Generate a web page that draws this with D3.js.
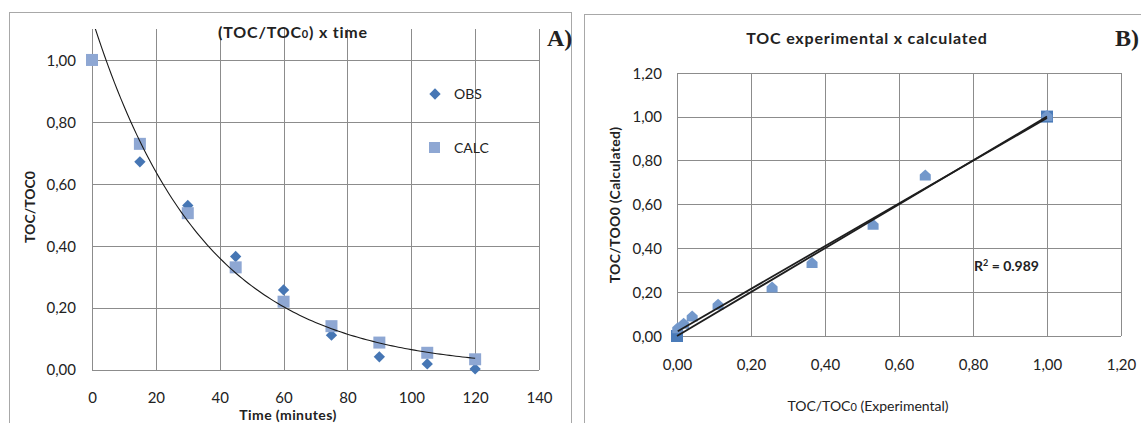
<!DOCTYPE html>
<html>
<head>
<meta charset="utf-8">
<script src="https://cdn.jsdelivr.net/npm/d3@7"></script>
<style>
  body { margin: 0; background: #fff; }
  svg { display: block; }
  text { font-family: Lato, "Open Sans", "Liberation Sans", sans-serif; fill: #222; }
</style>
</head>
<body>
<svg id="chart" width="1141" height="423"></svg>
<script>
// Sampling times and TOC ratios
const timeMin   = [0, 15, 30, 45, 60, 75, 90, 105, 120];
const obsRatio  = [1.000, 0.671, 0.530, 0.365, 0.257, 0.111, 0.041, 0.018, 0.002];
const calcRatio = [1.000, 0.729, 0.505, 0.330, 0.219, 0.140, 0.087, 0.054, 0.033];

// Identity reference used in the parity plot
const refX = [0, 1];
const refY = [0, 1];

// Axis ticks
const timeTicks  = [0, 20, 40, 60, 80, 100, 120, 140];
const ratioTicksA = [0, 0.2, 0.4, 0.6, 0.8, 1.0];
const ratioTicksB = [0, 0.2, 0.4, 0.6, 0.8, 1.0, 1.2];

const r2Label = "0.989";

const svg = d3.select("#chart");
const comma = d3.formatLocale({ decimal: ",", thousands: ".", grouping: [3], currency: ["", ""] }).format(".2f");

const GRID = "#8c8c8c";
const FRAME = "#a8a8a8";
const OBS_COLOR = "#4676b4";
const CALC_COLOR = "#8ea7d3";
const TRI_COLOR = "#7398cb";
const SQ_COLOR = "#4a7bb9";

function crisp(v) { return Math.round(v - 0.5) + 0.5; }

// Draws gridlines and tick labels for a plot area
function drawGrid(g, x, y, xTicks, yTicks, xFmt, yFmt, yPad) {
  const [x0, x1] = x.range();
  const [y0, y1] = y.range();

  const ax = d3.axisBottom(x).tickValues(xTicks).tickFormat(xFmt)
    .tickSizeInner(-(y0 - y1)).tickSizeOuter(0).tickPadding(0);
  const gx = g.append("g").attr("transform", `translate(0,${y0})`).call(ax);
  gx.select(".domain").remove();
  gx.selectAll(".tick line").attr("stroke", GRID).attr("shape-rendering", "crispEdges");
  gx.selectAll(".tick text").attr("y", 33.5).attr("dy", 0)
    .style("font-size", "15px").attr("fill", "#222");

  const ay = d3.axisLeft(y).tickValues(yTicks).tickFormat(yFmt)
    .tickSizeInner(-(x1 - x0)).tickSizeOuter(0).tickPadding(0);
  const gy = g.append("g").attr("transform", `translate(${x0},0)`).call(ay);
  gy.select(".domain").remove();
  gy.selectAll(".tick line").attr("stroke", GRID).attr("shape-rendering", "crispEdges");
  gy.selectAll(".tick text").attr("x", -yPad).attr("dy", "0.36em")
    .style("font-size", "15px").attr("fill", "#222");
}

/* ---------- Panel A: TOC/TOC0 versus time ---------- */
const gA = svg.append("g");
gA.append("rect").attr("x", 9.5).attr("y", 12.5).attr("width", 562).attr("height", 430)
  .attr("fill", "#fff").attr("stroke", FRAME);

const xA = d3.scaleLinear().domain([0, 140]).range([92, 539]);
const yA = d3.scaleLinear().domain([0, 1.1]).range([369.5, 29]);

drawGrid(gA, xA, yA, timeTicks, ratioTicksA, d3.format("d"), comma, 16);

// Right edge of the plot area
gA.append("line").attr("x1", crisp(xA(140))).attr("x2", crisp(xA(140)))
  .attr("y1", yA(1.1)).attr("y2", yA(0)).attr("stroke", GRID).attr("shape-rendering", "crispEdges");

gA.append("defs").append("clipPath").attr("id", "clipA")
  .append("rect").attr("x", xA(0)).attr("y", yA(1.1))
  .attr("width", xA(140) - xA(0)).attr("height", yA(0) - yA(1.1));

const rows = timeMin.map((t, i) => ({ t, obs: obsRatio[i], calc: calcRatio[i] }));

gA.append("g").selectAll("rect").data(rows).join("rect")
  .attr("x", d => xA(d.t) - 4).attr("y", d => yA(d.obs) - 4)
  .attr("width", 8).attr("height", 8)
  .attr("transform", d => `rotate(45,${xA(d.t)},${yA(d.obs)})`)
  .attr("fill", OBS_COLOR);

gA.append("g").selectAll("rect").data(rows).join("rect")
  .attr("x", d => xA(d.t) - 6).attr("y", d => yA(d.calc) - 6)
  .attr("width", 12).attr("height", 12)
  .attr("fill", CALC_COLOR);

// Exponential trendline fitted to the calculated series (log-linear least squares)
const lnC = calcRatio.map(Math.log);
const tMean = d3.mean(timeMin), lMean = d3.mean(lnC);
const kExp = d3.sum(timeMin, (t, i) => (t - tMean) * (lnC[i] - lMean)) /
             d3.sum(timeMin, t => (t - tMean) ** 2);
const aExp = Math.exp(lMean - kExp * tMean);
const curveT = d3.range(0, 120.001, 1);
gA.append("path")
  .datum(curveT)
  .attr("clip-path", "url(#clipA)")
  .attr("fill", "none").attr("stroke", "#1a1a1a").attr("stroke-width", 1.1)
  .attr("d", d3.line().x(t => xA(t)).y(t => yA(aExp * Math.exp(kExp * t))));

// Legend
const legA = gA.append("g");
legA.append("rect").attr("x", 435 - 4).attr("y", 94 - 4).attr("width", 8).attr("height", 8)
  .attr("transform", "rotate(45,435,94)").attr("fill", OBS_COLOR);
legA.append("text").attr("x", 454).attr("y", 94).attr("dy", "0.36em").style("font-size", "14px").text("OBS");
legA.append("rect").attr("x", 429).attr("y", 142).attr("width", 11).attr("height", 11).attr("fill", CALC_COLOR);
legA.append("text").attr("x", 454).attr("y", 148).attr("dy", "0.36em").style("font-size", "14px").text("CALC");

// Titles
const tA = gA.append("text").attr("x", 293).attr("y", 38).attr("text-anchor", "middle")
  .style("font-size", "16px").style("font-weight", "bold").style("letter-spacing", "0.8px");
tA.append("tspan").text("(TOC/TOC");
tA.append("tspan").style("font-size", "11px").text("0");
tA.append("tspan").text(") x time");

gA.append("text").attr("transform", "translate(35,207) rotate(-90)").attr("text-anchor", "middle")
  .style("font-size", "14px").style("font-weight", "bold").text("TOC/TOC0");

gA.append("text").attr("x", 288).attr("y", 419.5).attr("text-anchor", "middle")
  .style("font-size", "14px").style("font-weight", "bold").style("letter-spacing", "0.4px")
  .text("Time (minutes)");

gA.append("text").attr("x", 547).attr("y", 46)
  .style("font-family", "'Liberation Serif', 'DejaVu Serif', serif")
  .style("font-size", "24px").style("font-weight", "bold").attr("fill", "#000").text("A)");

/* ---------- Panel B: experimental versus calculated ---------- */
const gB = svg.append("g");
gB.append("rect").attr("x", 584.5).attr("y", 14.5).attr("width", 620).attr("height", 430)
  .attr("fill", "#fff").attr("stroke", FRAME);

const xB = d3.scaleLinear().domain([0, 1.2]).range([677, 1121]);
const yB = d3.scaleLinear().domain([0, 1.2]).range([336, 72.7]);

drawGrid(gB, xB, yB, ratioTicksB, ratioTicksB, comma, comma, 15);

// Reference squares
const sq = gB.append("g");
sq.selectAll("rect").data(refX.map((v, i) => [v, refY[i]])).join("rect")
  .attr("x", d => xB(d[0]) - 6).attr("y", d => yB(d[1]) - 6)
  .attr("width", 12).attr("height", 12).attr("fill", SQ_COLOR);

// Observed vs calculated markers
const house = "M0,-6.5L5.5,-1.5L5.5,4.5L-5.5,4.5L-5.5,-1.5Z";
gB.append("g").selectAll("path").data(rows).join("path")
  .attr("transform", d => `translate(${xB(d.obs)},${yB(d.calc)})`)
  .attr("d", house).attr("fill", TRI_COLOR);

// Identity line and least-squares line
const xMean = d3.mean(obsRatio), yMean = d3.mean(calcRatio);
const slope = d3.sum(obsRatio, (x, i) => (x - xMean) * (calcRatio[i] - yMean)) /
              d3.sum(obsRatio, x => (x - xMean) ** 2);
const intercept = yMean - slope * xMean;
const [xLo, xHi] = d3.extent(obsRatio);

gB.append("line")
  .attr("x1", xB(refX[0])).attr("y1", yB(refY[0])).attr("x2", xB(refX[1])).attr("y2", yB(refY[1]))
  .attr("stroke", "#1e1e1e").attr("stroke-width", 1.8);
gB.append("line")
  .attr("x1", xB(xLo)).attr("y1", yB(intercept + slope * xLo))
  .attr("x2", xB(xHi)).attr("y2", yB(intercept + slope * xHi))
  .attr("stroke", "#1e1e1e").attr("stroke-width", 1.8);

// R² annotation
const r2 = gB.append("text").attr("x", 974).attr("y", 271)
  .style("font-size", "14px").style("font-weight", "bold");
r2.append("tspan").text("R");
r2.append("tspan").attr("dy", -5).style("font-size", "9px").text("2");
r2.append("tspan").attr("dy", 5).text(" = " + r2Label);

// Titles
gB.append("text").attr("x", 867).attr("y", 44).attr("text-anchor", "middle")
  .style("font-size", "16px").style("font-weight", "bold").style("letter-spacing", "0.8px")
  .text("TOC experimental x calculated");

gB.append("text").attr("transform", "translate(620,205) rotate(-90)").attr("text-anchor", "middle")
  .style("font-size", "14px").style("font-weight", "bold").style("letter-spacing", "0.3px")
  .text("TOC/TOO0 (Calculated)");

const xl = gB.append("text").attr("x", 868).attr("y", 411).attr("text-anchor", "middle")
  .style("font-size", "14px");
xl.append("tspan").text("TOC/TOC");
xl.append("tspan").style("font-size", "11px").text("0");
xl.append("tspan").text(" (Experimental)");

gB.append("text").attr("x", 1115).attr("y", 46)
  .style("font-family", "'Liberation Serif', 'DejaVu Serif', serif")
  .style("font-size", "24px").style("font-weight", "bold").attr("fill", "#000").text("B)");
</script>
</body>
</html>
